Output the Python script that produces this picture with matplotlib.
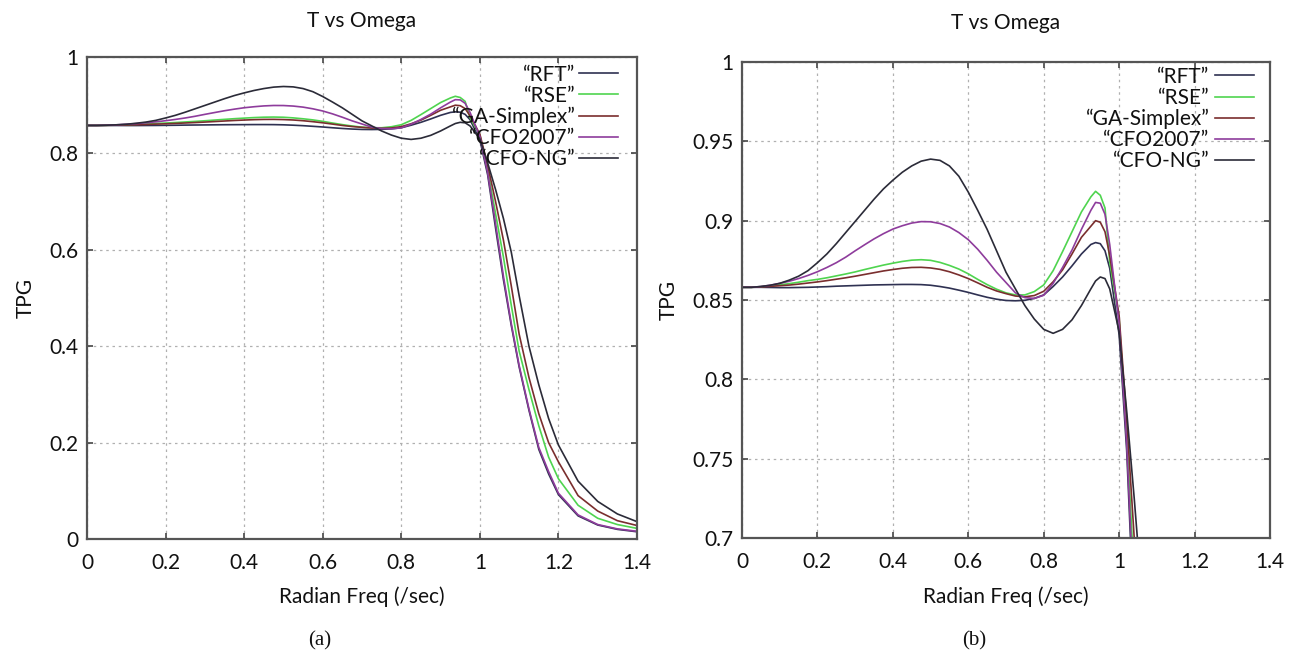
import matplotlib
matplotlib.use("Agg")
import matplotlib.pyplot as plt
from matplotlib.ticker import FuncFormatter

# ---------------- data ----------------
freq = [0, 0.025, 0.05, 0.075, 0.1, 0.125, 0.15, 0.175, 0.2, 0.225, 0.25, 0.275,
        0.3, 0.325, 0.35, 0.375, 0.4, 0.425, 0.45, 0.475, 0.5, 0.525, 0.55, 0.575,
        0.6, 0.625, 0.65, 0.675, 0.7, 0.725, 0.75, 0.775, 0.8, 0.825, 0.85, 0.875,
        0.9, 0.925, 0.9375, 0.95, 0.9625, 0.975, 1.0, 1.02, 1.04, 1.06, 1.08, 1.1,
        1.125, 1.15, 1.175, 1.2, 1.25, 1.3, 1.35, 1.4]

rft = [0.858, 0.858, 0.858, 0.8579, 0.8578, 0.8578, 0.8579, 0.858, 0.8582, 0.8584,
       0.8587, 0.8589, 0.8591, 0.8593, 0.8595, 0.8596, 0.8597, 0.8598, 0.8598,
       0.8597, 0.8593, 0.8585, 0.8575, 0.8562, 0.8548, 0.8532, 0.8517, 0.8505,
       0.8497, 0.8495, 0.8498, 0.851, 0.8532, 0.8585, 0.8645, 0.8715, 0.879,
       0.885, 0.8862, 0.8855, 0.881, 0.87, 0.828, 0.755, 0.645, 0.538, 0.443,
       0.357, 0.267, 0.186, 0.135, 0.092, 0.048, 0.029, 0.02, 0.015]

rse = [0.858, 0.858, 0.8584, 0.859, 0.8596, 0.8603, 0.8612, 0.8622, 0.863, 0.864,
       0.8652, 0.8664, 0.8677, 0.8692, 0.8706, 0.872, 0.8732, 0.8743, 0.8751,
       0.8754, 0.875, 0.8737, 0.8718, 0.8695, 0.8665, 0.863, 0.8597, 0.8568,
       0.8545, 0.8532, 0.8532, 0.8553, 0.8595, 0.8685, 0.8805, 0.893, 0.9055,
       0.915, 0.9185, 0.916, 0.908, 0.874, 0.838, 0.765, 0.675, 0.585, 0.485,
       0.39, 0.31, 0.235, 0.17, 0.125, 0.07, 0.043, 0.03, 0.022]

ga_simplex = [0.858, 0.858, 0.8582, 0.8586, 0.859, 0.8594, 0.86, 0.8607, 0.8614,
              0.8622, 0.8631, 0.864, 0.865, 0.8661, 0.8672, 0.8683, 0.8692, 0.87,
              0.8705, 0.8706, 0.8702, 0.8693, 0.8678, 0.8658, 0.8635, 0.8608,
              0.858, 0.8557, 0.854, 0.8525, 0.852, 0.8528, 0.8555, 0.8615, 0.869,
              0.879, 0.8895, 0.8965, 0.9, 0.899, 0.893, 0.878, 0.84, 0.775, 0.70,
              0.62, 0.525, 0.425, 0.335, 0.26, 0.2, 0.16, 0.09, 0.058, 0.038, 0.028]

cfo2007 = [0.858, 0.858, 0.8585, 0.8593, 0.8605, 0.8618, 0.8635, 0.8655, 0.8678,
           0.8705, 0.8735, 0.877, 0.881, 0.8848, 0.8885, 0.8918, 0.8947, 0.8968,
           0.8985, 0.8994, 0.8993, 0.8982, 0.896, 0.8925, 0.888, 0.882, 0.875,
           0.8675, 0.861, 0.8545, 0.8515, 0.851, 0.853, 0.8605, 0.8705, 0.8815,
           0.8945, 0.9065, 0.9115, 0.911, 0.904, 0.885, 0.835, 0.76, 0.655, 0.545,
           0.447, 0.36, 0.27, 0.19, 0.14, 0.095, 0.05, 0.03, 0.021, 0.016]

cfo_ng = [0.858, 0.858, 0.8585, 0.8593, 0.8605, 0.8625, 0.865, 0.8685, 0.8735,
          0.879, 0.8855, 0.8925, 0.8995, 0.9065, 0.9135, 0.92, 0.9255, 0.9305,
          0.9345, 0.9375, 0.9388, 0.938, 0.9345, 0.928, 0.918, 0.9065, 0.8945,
          0.881, 0.8675, 0.857, 0.8465, 0.838, 0.8315, 0.829, 0.8315, 0.8375,
          0.8465, 0.857, 0.862, 0.8645, 0.8635, 0.857, 0.83, 0.78, 0.725, 0.665,
          0.595, 0.505, 0.40, 0.32, 0.25, 0.195, 0.12, 0.078, 0.052, 0.036]

series_names = ['\u201cRFT\u201d', '\u201cRSE\u201d', '\u201cGA-Simplex\u201d',
                '\u201cCFO2007\u201d', '\u201cCFO-NG\u201d']
series_vals = [rft, rse, ga_simplex, cfo2007, cfo_ng]
series_colors = ['#2f3152', '#4fd44f', '#7a2e2e', '#8e3c9c', '#2b2b38']

xticks = [0, 0.2, 0.4, 0.6, 0.8, 1.0, 1.2, 1.4]
yticks_a = [0, 0.2, 0.4, 0.6, 0.8, 1.0]
yticks_b = [0.7, 0.75, 0.8, 0.85, 0.9, 0.95, 1.0]

# ---------------- figure ----------------
plt.rcParams['font.family'] = ['Lato', 'DejaVu Sans']
FS = 15
W, H = 1295, 657
fig = plt.figure(figsize=(W / 100, H / 100), dpi=100)

fmt = FuncFormatter(lambda v, p: f"{v:g}")


def px_box(x0, x1, ytop, ybot):
    return [x0 / W, 1 - ybot / H, (x1 - x0) / W, (ybot - ytop) / H]


def style_axes(ax, yticks, ylim):
    ax.set_xlim(0, 1.4)
    ax.set_ylim(*ylim)
    ax.set_xticks(xticks)
    ax.set_yticks(yticks)
    ax.xaxis.set_major_formatter(fmt)
    ax.yaxis.set_major_formatter(fmt)
    ax.tick_params(direction='in', length=4, width=1.2, color='#444444',
                   top=True, right=True, labelsize=FS, labelcolor='#111111')
    ax.tick_params(axis='x', pad=10)
    ax.tick_params(axis='y', pad=6)
    ax.grid(True, color='#b0b0b0', linestyle=(0, (2, 3)), linewidth=0.9)
    for s in ax.spines.values():
        s.set_color('#555555')
        s.set_linewidth(1.6)


axes_px = [(87, 637, 57, 539), (742, 1270, 62, 538)]
ylims = [(0, 1), (0.7, 1)]
yticks_all = [yticks_a, yticks_b]
legend_anchor = [(0.966, 0.984), (0.97, 0.990)]
legend_pad = [0.15, 0.25]
ylabel_x = [26, 669]
xlabel_y = 597
title_pos = [(362, 21), (995, 23)]

for i in range(2):
    x0, x1, yt, yb = axes_px[i]
    ax = fig.add_axes(px_box(x0, x1, yt, yb))
    style_axes(ax, yticks_all[i], ylims[i])
    for name, vals, col in zip(series_names, series_vals, series_colors):
        ax.plot(freq, vals, color=col, linewidth=1.2, label=name)
    leg = ax.legend(loc='upper right', bbox_to_anchor=legend_anchor[i],
                    frameon=False, markerfirst=False, fontsize=FS,
                    handlelength=1.9, handletextpad=legend_pad[i],
                    labelspacing=0.05, borderpad=0, borderaxespad=0)
    for t in leg.get_texts():
        t.set_color('#111111')
    ax.set_xlabel('Radian Freq (/sec)', fontsize=FS, color='#111111', va='center')
    ax.xaxis.set_label_coords(0.5, (yb - xlabel_y) / (yb - yt))
    ax.set_ylabel('TPG', fontsize=FS, color='#111111', va='center')
    ax.yaxis.set_label_coords((ylabel_x[i] - x0) / (x1 - x0), 0.5)
    ax.set_title('T vs Omega', fontsize=FS, color='#111111', va='center',
                 y=(yb - title_pos[i][1]) / (yb - yt), pad=0)

fig.text(320 / W, 1 - 641 / H, '(a)', ha='center', va='center', fontsize=15,
         family=['Liberation Serif', 'DejaVu Serif'], color='#111111')
fig.text(974 / W, 1 - 641 / H, '(b)', ha='center', va='center', fontsize=15,
         family=['Liberation Serif', 'DejaVu Serif'], color='#111111')

fig.savefig('out.png', dpi=100)
